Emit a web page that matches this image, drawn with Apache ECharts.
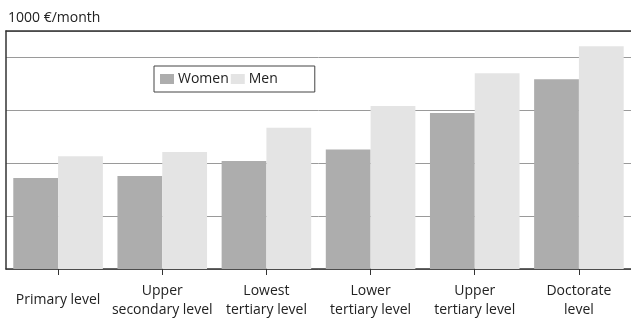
<!DOCTYPE html>
<html>
<head>
<meta charset="utf-8">
<script src="https://cdn.jsdelivr.net/npm/echarts@6/dist/echarts.min.js"></script>
<style>
  html, body { margin: 0; padding: 0; background: #fff; }
  #chart { width: 631px; height: 320px; }
</style>
</head>
<body>
<div id="chart"></div>
<script>
// Monthly earnings by level of education, in thousand euros
const categories = [
  'Primary level',
  'Upper\nsecondary level',
  'Lowest\ntertiary level',
  'Lower\ntertiary level',
  'Upper\ntertiary level',
  'Doctorate\nlevel'
];
const women = [1.72, 1.76, 2.04, 2.26, 2.95, 3.59];
const men = [2.13, 2.21, 2.67, 3.08, 3.70, 4.21];
const unitLabel = '1000 €/month';

const FONT = '"Open Sans", "Noto Sans", sans-serif';

const chart = echarts.init(document.getElementById('chart'), null, { renderer: 'canvas' });

chart.setOption({
  animation: false,
  backgroundColor: '#fff',
  textStyle: { fontFamily: FONT },
  title: {
    text: unitLabel,
    left: 3,
    top: 6,
    textStyle: { fontFamily: FONT, fontSize: 14, fontWeight: 'normal', color: '#222' }
  },
  legend: {
    data: ['Women', 'Men'],
    left: 154,
    top: 66,
    orient: 'horizontal',
    itemWidth: 14,
    itemHeight: 10,
    itemGap: 2,
    padding: [6, 37, 6, 6],
    borderColor: '#444',
    borderWidth: 1,
    icon: 'rect',
    textStyle: { fontFamily: FONT, fontSize: 14, color: '#222', padding: [0, 0, 0, -1] }
  },
  grid: {
    left: 6,
    width: 631,
    top: 31,
    bottom: 49,
    show: false
  },
  xAxis: [
    {
      type: 'category',
      data: categories.map((c, i) => i === 0
        ? { value: c, textStyle: { padding: [9, 0, 0, 0] } }
        : c),
      boundaryGap: true,
      axisLine: { show: true, lineStyle: { color: '#333', width: 1.5 } },
      axisTick: { show: true, alignWithLabel: true, length: 6, lineStyle: { color: '#333' } },
      axisLabel: {
        interval: 0,
        margin: 13,
        color: '#222',
        fontSize: 14,
        lineHeight: 19,
        fontFamily: FONT
      }
    },
    {
      // frame line along the top of the plot
      type: 'category',
      position: 'top',
      data: categories,
      axisLine: { show: true, lineStyle: { color: '#333', width: 1.5 } },
      axisTick: { show: false },
      axisLabel: { show: false },
      splitLine: { show: false }
    }
  ],
  yAxis: {
    type: 'value',
    min: 0,
    max: 4.5,
    interval: 1,
    axisLine: { show: true, lineStyle: { color: '#333', width: 1.5 } },
    axisTick: { show: false },
    axisLabel: { show: false },
    splitLine: { show: true, lineStyle: { color: '#9a9a9a', width: 1 } }
  },
  series: [
    {
      name: 'Women',
      type: 'bar',
      data: women,
      barGap: '0%',
      barCategoryGap: '14%',
      itemStyle: { color: '#adadad' }
    },
    {
      name: 'Men',
      type: 'bar',
      data: men,
      itemStyle: { color: '#e4e4e4' }
    }
  ]
});
</script>
</body>
</html>
